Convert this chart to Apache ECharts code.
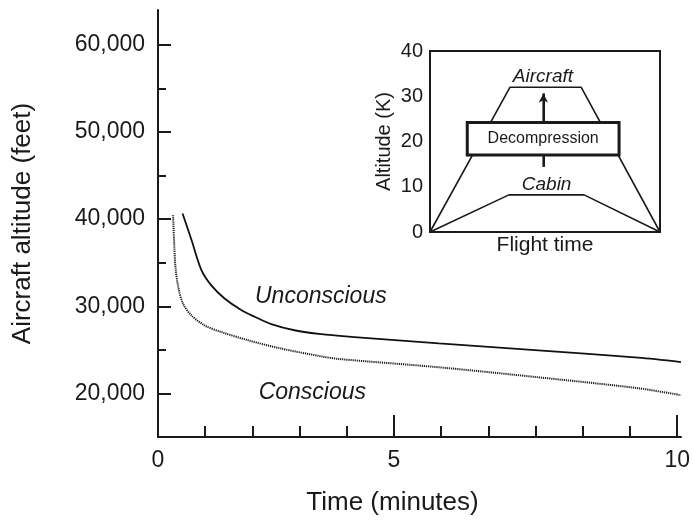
<!DOCTYPE html>
<html><head><meta charset="utf-8">
<script src="https://cdn.jsdelivr.net/npm/echarts@6/dist/echarts.min.js"></script>
<style>html,body{margin:0;padding:0;background:#fff}#c{width:693px;height:522px}</style>
</head><body><div id="c"></div>
<script>
// ---- Main chart (x in evenly spaced axis tick units; labels 0, 5, 10 sit on ticks 0, 5, 11) ----
const unconsciousX   = [0.52, 0.71, 0.92, 1.13, 1.41, 1.77, 2.05, 2.40, 2.89, 3.46, 4.09, 5.95, 8.06, 10.17, 11.08];
const unconsciousAlt = [40650, 37600, 34150, 32400, 30900, 29550, 28800, 27950, 27250, 26800, 26500, 25750, 24950, 24100, 23600];
const consciousX     = [0.32, 0.34, 0.37, 0.43, 0.53, 0.71, 0.99, 1.34, 1.91, 2.61, 3.46, 3.84, 5.95, 8.06, 10.17, 11.08];
const consciousAlt   = [40450, 37600, 34500, 32200, 30300, 28950, 27800, 27050, 26100, 25150, 24250, 23950, 23000, 21850, 20600, 19800];
const xMinorTicks    = [1, 2, 3, 4, 6, 7, 8, 9, 10];
const xMajorTicks    = [5, 11];
const xLabelValues   = [0, 5, 11];
const xLabelTexts    = ['0', '5', '10'];
const yMinorTicks    = [20000, 25000, 30000, 35000, 40000, 45000, 50000, 55000, 60000];
const yMajorTicks    = [20000, 30000, 40000, 50000, 60000];
const curveNames     = ['Unconscious', 'Conscious'];
const curveLabelAt   = [[3.45, 31100], [3.27, 20130]];

// ---- Inset ----
const aircraftX   = [0, 34.8, 65.7, 100];
const aircraftAlt = [0, 32, 32, 0];
const cabinX      = [0, 34.3, 67.0, 100];
const cabinAlt    = [0, 8.2, 8.2, 0];
const decompBox   = [16.2, 82.2, 17.0, 24.2]; // x0, x1, y0, y1
const decompText  = 'Decompression';
const arrowX = 49.3, arrowFrom = 14.4, arrowTo = 30.6;
const insetNames  = ['Aircraft', 'Cabin'];
const insetLabelAt = [[49.1, 34.3], [50.7, 10.4]];

const FONT = '"Liberation Sans", Arial, Helvetica, sans-serif';
const INK = '#1a1a1a';
const zip = (a, b) => a.map((v, i) => [v, b[i]]);

const chart = echarts.init(document.getElementById('c'), null, {renderer: 'canvas'});
chart.setOption({
  backgroundColor: '#fff',
  animation: false,
  textStyle: {fontFamily: FONT, color: INK},
  grid: [
    {left: 158, top: 10, width: 525, height: 427},
    {left: 430, top: 51, width: 230, height: 181, show: true, borderColor: INK, borderWidth: 2, backgroundColor: '#fff', z: 3}
  ],
  xAxis: [
    {gridIndex: 0, type: 'value', position: 'bottom', min: 0, max: 11.08,
     axisLine: {lineStyle: {color: INK, width: 2}},
     axisTick: {show: true, inside: true, length: 11, customValues: xMinorTicks, lineStyle: {color: INK, width: 2}},
     axisLabel: {customValues: xLabelValues, formatter: v => xLabelTexts[xLabelValues.indexOf(v)],
                 fontSize: 23, margin: 12, color: INK, fontFamily: FONT},
     splitLine: {show: false},
     name: 'Time (minutes)', nameLocation: 'middle', nameGap: 53,
     nameTextStyle: {fontSize: 26, color: INK, fontFamily: FONT, padding: [0, 54, 0, 0]}},
    {gridIndex: 0, type: 'value', position: 'bottom', min: 0, max: 11.08,
     axisLine: {show: false},
     axisTick: {show: true, inside: true, length: 22, customValues: xMajorTicks, lineStyle: {color: INK, width: 2}},
     axisLabel: {show: false}, splitLine: {show: false}},
    {gridIndex: 1, type: 'value', min: 0, max: 100,
     axisLine: {lineStyle: {color: INK, width: 2}},
     axisTick: {show: false}, axisLabel: {show: false}, splitLine: {show: false},
     name: 'Flight time', nameLocation: 'middle', nameGap: 3,
     nameTextStyle: {fontSize: 21, color: INK, fontFamily: FONT}}
  ],
  yAxis: [
    {gridIndex: 0, type: 'value', position: 'left', offset: 0, min: 15000, max: 64000,
     axisLine: {show: true, lineStyle: {color: INK, width: 2}},
     axisTick: {show: true, inside: true, length: 8, customValues: yMinorTicks, lineStyle: {color: INK, width: 2}},
     axisLabel: {show: false}, splitLine: {show: false}},
    {gridIndex: 0, type: 'value', position: 'left', offset: 0, min: 15000, max: 64000,
     axisLine: {show: false},
     axisTick: {show: true, inside: true, length: 13, customValues: yMajorTicks, lineStyle: {color: INK, width: 2}},
     axisLabel: {customValues: yMajorTicks, formatter: v => v.toLocaleString('en-US'),
                 fontSize: 23, margin: 13, color: INK, fontFamily: FONT},
     splitLine: {show: false},
     name: 'Aircraft altitude (feet)', nameLocation: 'middle', nameGap: 122,
     nameTextStyle: {fontSize: 26, color: INK, fontFamily: FONT}},
    {gridIndex: 1, type: 'value', min: 0, max: 40, interval: 10,
     axisLine: {show: true, lineStyle: {color: INK, width: 2}},
     axisTick: {show: true, inside: true, length: 9, lineStyle: {color: INK, width: 2}},
     axisLabel: {fontSize: 20, margin: 7, color: INK, fontFamily: FONT},
     splitLine: {show: false},
     name: 'Altitude (K)', nameLocation: 'middle', nameGap: 36,
     nameTextStyle: {fontSize: 20, color: INK, fontFamily: FONT}}
  ],
  series: [
    {name: curveNames[0], type: 'line', xAxisIndex: 0, yAxisIndex: 0,
     data: zip(unconsciousX, unconsciousAlt), smooth: 0.3, showSymbol: false,
     lineStyle: {color: '#111', width: 1.8}},
    {name: curveNames[1], type: 'line', xAxisIndex: 0, yAxisIndex: 0,
     data: zip(consciousX, consciousAlt), smooth: 0.3, showSymbol: false,
     lineStyle: {color: '#1e1e1e', width: 2, type: [1.2, 0.9]}},
    {type: 'scatter', xAxisIndex: 0, yAxisIndex: 0, symbolSize: 0, itemStyle: {opacity: 1},
     data: curveLabelAt.map((p, i) => [p[0], p[1], curveNames[i]]),
     label: {show: true, position: 'inside', formatter: p => p.data[2], fontSize: 23, fontStyle: 'italic',
             color: INK, opacity: 1, fontFamily: FONT}},
    {type: 'line', xAxisIndex: 2, yAxisIndex: 2, z: 4, data: zip(aircraftX, aircraftAlt), showSymbol: false,
     lineStyle: {color: INK, width: 1.6}},
    {type: 'line', xAxisIndex: 2, yAxisIndex: 2, z: 4, data: zip(cabinX, cabinAlt), showSymbol: false,
     lineStyle: {color: INK, width: 1.6}},
    {type: 'line', xAxisIndex: 2, yAxisIndex: 2, z: 4, data: [[arrowX, arrowFrom], [arrowX, arrowTo]], showSymbol: false,
     lineStyle: {color: INK, width: 2},
     markLine: {silent: true, symbol: ['none', 'arrow'], symbolSize: [7, 9], label: {show: false},
                lineStyle: {color: INK, width: 2, type: 'solid'},
                data: [[{coord: [arrowX, arrowFrom]}, {coord: [arrowX, arrowTo]}]]}},
    {type: 'custom', xAxisIndex: 2, yAxisIndex: 2, z: 6,
     data: [decompBox], encode: {x: [0, 1], y: [2, 3]},
     renderItem: (params, api) => {
       const p0 = api.coord([api.value(0), api.value(3)]);
       const p1 = api.coord([api.value(1), api.value(2)]);
       return {type: 'group', children: [
         {type: 'rect', shape: {x: p0[0], y: p0[1], width: p1[0] - p0[0], height: p1[1] - p0[1]},
          style: {fill: '#fff', stroke: INK, lineWidth: 3}},
         {type: 'text', style: {text: decompText, x: (p0[0] + p1[0]) / 2, y: (p0[1] + p1[1]) / 2,
          align: 'center', verticalAlign: 'middle', fontSize: 16, fontFamily: FONT, fill: INK}}
       ]};
     }},
    {type: 'scatter', xAxisIndex: 2, yAxisIndex: 2, z: 7, symbolSize: 0, itemStyle: {opacity: 1},
     data: insetLabelAt.map((p, i) => [p[0], p[1], insetNames[i]]),
     label: {show: true, position: 'inside', formatter: p => p.data[2], fontSize: 19, fontStyle: 'italic',
             color: INK, opacity: 1, fontFamily: FONT}}
  ]
});
</script></body></html>
